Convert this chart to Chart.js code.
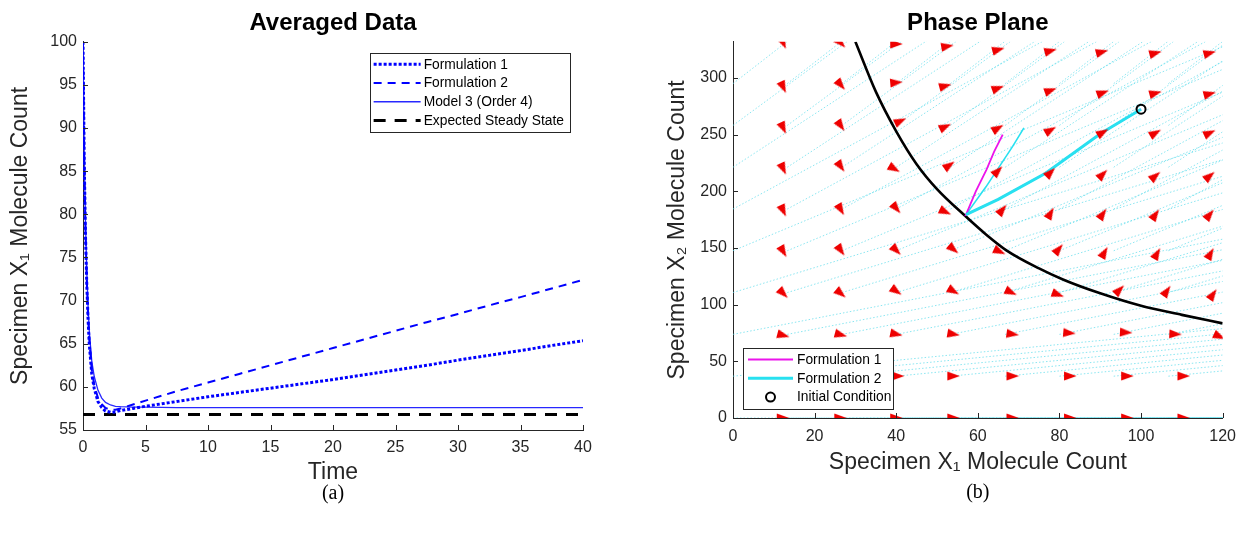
<!DOCTYPE html>
<html lang="en">

<head>
    <meta charset="UTF-8">
    <title>Averaged Data / Phase Plane</title>
    <style>
        body { margin: 0; background: #fff; }
        #wrap { position: relative; width: 1245px; height: 536px; }
        canvas { position: absolute; top: 0; }
        #leftChart { left: 0; }
        #rightChart { left: 640px; }
    </style>
</head>

<body>
    <div id="wrap">
        <canvas id="leftChart" width="620" height="536"></canvas>
        <canvas id="rightChart" width="605" height="536"></canvas>
    </div>

    <script src="https://cdn.jsdelivr.net/npm/chart.js@4/dist/chart.umd.min.js"></script>
    <script>
        // ---------- (a) Averaged Data ----------
        const timePoints = [0, 0.1, 0.2, 0.3, 0.4, 0.5, 0.7, 0.9, 1.2, 1.5, 1.8, 2.2, 2.6, 3, 4, 5, 7.5, 10, 12.5, 15, 17.5, 20, 22.5, 25, 27.5, 30, 32.5, 35, 37.5, 40];
        const formulation1 = [100, 86, 77.5, 72, 68, 65, 61.5, 59.8, 58.3, 57.6, 57.2, 57.05, 57.1, 57.25, 57.5, 57.75, 58.3, 58.85, 59.35, 59.85, 60.35, 60.85, 61.4, 61.95, 62.5, 63.1, 63.65, 64.2, 64.8, 65.35];
        const formulation2 = [100, 86.5, 78, 72.5, 68.5, 65.5, 62, 60.2, 58.7, 58, 57.55, 57.35, 57.35, 57.5, 57.95, 58.4, 59.5, 60.5, 61.5, 62.5, 63.5, 64.5, 65.5, 66.5, 67.5, 68.45, 69.45, 70.4, 71.4, 72.4];
        const model3 = [100, 87, 79, 73.5, 69.5, 66.5, 63, 61.2, 59.6, 58.7, 58.2, 57.9, 57.75, 57.7, 57.65, 57.65, 57.6, 57.6, 57.6, 57.6, 57.6, 57.6, 57.6, 57.6, 57.6, 57.6, 57.6, 57.6, 57.6, 57.6];
        const steadyTime = [0, 40];
        const steadyState = [56.8, 56.8];

        // ---------- (b) Phase Plane ----------
        const nullclineX = [30, 35, 40, 45, 50, 57, 62, 67, 75, 81, 90, 100, 110, 120];
        const nullclineY = [332, 288, 253, 224, 202, 178, 162, 148, 132, 122, 110, 99, 91, 83.5];

        const initialX = [100];
        const initialY = [272.5];

        const form1X = [100, 90.2, 76.6, 65, 57.1, 59.5, 62.1, 64, 66.1];
        const form1Y = [272.5, 251.3, 216, 193, 179.5, 200, 219, 235, 250];
        const form2MainX = [100, 90.2, 76.6, 65, 57.1];
        const form2MainY = [272.5, 251.3, 216, 193, 179.5];
        const form2BranchX = [57.1, 62, 68.5, 71.3];
        const form2BranchY = [179.5, 204, 239.5, 256];

        // arrowheads of the direction field, row by row from the top
        const quiverX = [
            12.3, 26.4, 40, 52.5, 65, 77.8, 90.4, 103.5, 116.8,
            12.3, 26.4, 40, 52, 64.9, 77.8, 90.6, 103.5, 116.8,
            12.3, 26.4, 41, 52, 64.9, 77.8, 90.6, 103.5, 116.8,
            12.3, 26.4, 39.5, 53, 64.9, 77.8, 90.6, 103.5, 116.8,
            12.3, 26.4, 40, 52, 66, 77.8, 90.6, 103.5, 116.8,
            12.3, 26.4, 40, 54, 65.3, 79.8, 91, 103.9, 117,
            12.3, 26.4, 40, 54, 68.1, 79.6, 94.7, 106.3, 117.6,
            12.3, 26.4, 40, 54, 68.5, 82.4, 96.3, 108.4, 119.2,
            12.3, 26.4, 40.4, 54, 68.5, 82.6, 96.6, 110.4,
            12.2, 26.3, 40, 54, 68.5, 82.6, 96.6, 110.4
        ];
        const quiverY = [
            331, 331, 330, 328, 325, 324, 323, 322, 322,
            292, 294, 296, 293, 291, 289, 287, 286.6, 286,
            256, 258, 262, 257, 255.7, 254, 252, 251.5, 251.5,
            220, 222, 220, 223, 218, 216.6, 215, 213.5, 213.5,
            183, 184, 185, 182, 183.7, 180.7, 180, 179.4, 179.4,
            147, 148, 148, 149, 147, 149, 146, 145, 145,
            110, 110, 112, 112, 111, 109, 113, 112, 109,
            73, 73.5, 74, 74, 74, 75, 75.5, 74, 72,
            37, 37, 37, 37, 37, 37, 37, 37,
            0, 0, 0, 0, 0, 0, 0, 0
        ];
        // on-screen direction in degrees, counter-clockwise from +x
        const quiverAngle = [
            -65, -45, 0, 10, 15, 15, 15, 15, 15,
            -65, -50, 5, 15, 20, 20, 20, 15, 15,
            -65, -55, 25, 25, 30, 30, 30, 30, 25,
            -65, -55, -30, 35, 45, 45, 45, 40, 40,
            -65, -60, -50, -25, 50, 60, 55, 55, 50,
            -60, -55, -45, -40, -25, 50, 60, 60, 60,
            -45, -40, -35, -30, -25, -20, 45, 55, 55,
            -15, -15, -12, -10, -8, -5, -3, -3, -25,
            0, 0, 0, 0, 0, 0, 0, 0,
            0, 0, 0, 0, 0, 0, 0, 0
        ];

        // dotted stream lines leave every grid point with the row's slope
        const streamRowY = [0, 36.9, 73.8, 110.7, 147.6, 184.4, 221.3, 258.2, 295.1];
        const streamSlope = [0, 0.35, 0.7, 1.1, 1.5, 1.95, 2.35, 2.65, 2.8];
        const streamStartX = [0, 13.3, 26.7, 40, 53.3, 66.7, 80, 93.3, 106.7];

        const pairs = (xs, ys) => xs.map((x, i) => ({ x: x, y: ys[i] }));

        const streamPoints = [];
        streamRowY.forEach((y0, r) => {
            streamStartX.forEach(x0 => {
                streamPoints.push({ x: x0, y: y0 });
                streamPoints.push({ x: x0 + 130, y: y0 + streamSlope[r] * 130 });
                streamPoints.push({ x: x0 + 130, y: null });
            });
        });

        // arrowhead sprite, pointing up; Chart.js rotates it per point
        const arrowHead = document.createElement('canvas');
        arrowHead.width = 10;
        arrowHead.height = 14;
        (function () {
            const c = arrowHead.getContext('2d');
            c.fillStyle = '#ee0000';
            c.beginPath();
            c.moveTo(5, 0.5);
            c.lineTo(9.5, 13);
            c.lineTo(0.5, 13);
            c.closePath();
            c.fill();
        })();

        const FONT = "'Liberation Sans', Arial, Helvetica, sans-serif";
        Chart.defaults.font.family = FONT;
        Chart.defaults.color = '#262626';

        // MATLAB style tick marks, pointing into the axes
        const innerTicks = {
            id: 'innerTicks',
            afterDatasetsDraw(chart) {
                const ctx = chart.ctx;
                ctx.save();
                ctx.strokeStyle = '#262626';
                ctx.lineWidth = 1;
                Object.values(chart.scales).forEach(s => {
                    s.ticks.forEach(t => {
                        const p = Math.round(s.getPixelForValue(t.value)) + 0.5;
                        ctx.beginPath();
                        if (s.isHorizontal()) {
                            ctx.moveTo(p, s.top);
                            ctx.lineTo(p, s.top - 5);
                        } else {
                            ctx.moveTo(s.right, p);
                            ctx.lineTo(s.right + 5, p);
                        }
                        ctx.stroke();
                    });
                });
                ctx.restore();
            }
        };

        // boxed legend inside the plot area
        const boxLegend = {
            id: 'boxLegend',
            afterDraw(chart, args, o) {
                if (!o.items) return;
                const ctx = chart.ctx;
                const area = chart.chartArea;
                const sets = o.items.map(l => chart.data.datasets.find(d => d.label === l));
                ctx.save();
                ctx.font = o.fontSize + 'px ' + FONT;
                const textW = Math.max(...sets.map(d => ctx.measureText(d.label).width));
                const w = o.textLeft + textW + o.padRight;
                const h = sets.length * o.rowHeight + o.padY * 2;
                const left = o.corner === 'topRight' ? area.right - o.offsetX - w : area.left + o.offsetX;
                const top = o.corner === 'topRight' ? area.top + o.offsetY : area.bottom - o.offsetY - h;
                ctx.fillStyle = '#fff';
                ctx.fillRect(left, top, w, h);
                ctx.strokeStyle = '#262626';
                ctx.lineWidth = 1;
                ctx.strokeRect(Math.round(left) + 0.5, Math.round(top) + 0.5, Math.round(w), Math.round(h));
                sets.forEach((d, i) => {
                    const y = top + o.padY + o.rowHeight * (i + 0.5);
                    if (d.showLine === false) {
                        ctx.setLineDash([]);
                        ctx.beginPath();
                        ctx.arc(left + o.sampleLeft + o.sampleLen / 2, y, d.pointRadius, 0, Math.PI * 2);
                        ctx.lineWidth = d.pointBorderWidth;
                        ctx.strokeStyle = d.pointBorderColor;
                        ctx.stroke();
                    } else {
                        ctx.setLineDash(d.borderDash || []);
                        ctx.beginPath();
                        ctx.moveTo(left + o.sampleLeft, y);
                        ctx.lineTo(left + o.sampleLeft + o.sampleLen, y);
                        ctx.lineWidth = d.borderWidth;
                        ctx.strokeStyle = d.borderColor;
                        ctx.stroke();
                    }
                    ctx.setLineDash([]);
                    ctx.fillStyle = '#000';
                    ctx.textBaseline = 'middle';
                    ctx.fillText(d.label, left + o.textLeft, y + 0.5);
                });
                ctx.restore();
            }
        };

        const axisTitle = (text, pad) => ({
            display: true,
            text: text,
            color: '#262626',
            font: { size: 23, lineHeight: 1 },
            padding: pad
        });

        const tickFont = { size: 16 };

        // ----- left chart -----
        new Chart(document.getElementById('leftChart'), {
            type: 'scatter',
            data: {
                datasets: [{
                    label: 'Formulation 1',
                    data: pairs(timePoints, formulation1),
                    showLine: true,
                    borderColor: '#0000ff',
                    borderWidth: 3,
                    borderDash: [3, 2],
                    pointRadius: 0
                },
                {
                    label: 'Formulation 2',
                    data: pairs(timePoints, formulation2),
                    showLine: true,
                    borderColor: '#0000ff',
                    borderWidth: 2,
                    borderDash: [8, 6],
                    pointRadius: 0
                },
                {
                    label: 'Model 3 (Order 4)',
                    data: pairs(timePoints, model3),
                    showLine: true,
                    borderColor: 'rgb(40,40,255)',
                    borderWidth: 1.3,
                    pointRadius: 0
                },
                {
                    label: 'Expected Steady State',
                    data: pairs(steadyTime, steadyState),
                    showLine: true,
                    borderColor: '#000',
                    borderWidth: 3,
                    borderDash: [12, 9],
                    pointRadius: 0
                }]
            },
            options: {
                responsive: false,
                animation: false,
                events: [],
                devicePixelRatio: 1,
                layout: { padding: { left: 0, right: 37, top: 0, bottom: 0 } },
                plugins: {
                    legend: { display: false },
                    tooltip: { enabled: false },
                    title: {
                        display: true,
                        text: 'Averaged Data',
                        color: '#000',
                        fullSize: false,
                        font: { size: 24, weight: 'bold', lineHeight: 1.2 },
                        padding: { top: 9, bottom: 4 }
                    },
                    subtitle: {
                        display: true,
                        position: 'bottom',
                        text: '(a)',
                        color: '#000',
                        fullSize: false,
                        font: { family: "'Liberation Serif', 'DejaVu Serif', serif", size: 20, lineHeight: 1 },
                        padding: { top: 0, bottom: 32 }
                    },
                    boxLegend: {
                        items: ['Formulation 1', 'Formulation 2', 'Model 3 (Order 4)', 'Expected Steady State'],
                        corner: 'topRight', offsetX: 13, offsetY: 11,
                        fontSize: 13.8, rowHeight: 18.7, padY: 2.2,
                        sampleLeft: 4, sampleLen: 47, textLeft: 54, padRight: 6
                    }
                },
                scales: {
                    x: {
                        type: 'linear', min: 0, max: 40,
                        grid: { drawOnChartArea: false, drawTicks: false },
                        border: { display: true, color: '#262626' },
                        ticks: { stepSize: 5, padding: 8, font: tickFont, maxRotation: 0, autoSkip: false },
                        title: axisTitle('Time', { top: 0, bottom: 0 }),
                        afterFit: s => { s.height = 54; }
                    },
                    y: {
                        type: 'linear', min: 55, max: 100,
                        grid: { drawOnChartArea: false, drawTicks: false },
                        border: { display: true, color: '#262626' },
                        ticks: { stepSize: 5, padding: 6, font: tickFont, autoSkip: false },
                        title: axisTitle('Specimen X\u2081 Molecule Count', { top: 9.5, bottom: 0 }),
                        afterFit: s => { s.width = 83; }
                    }
                }
            },
            plugins: [innerTicks, boxLegend]
        });

        // ----- right chart -----
        new Chart(document.getElementById('rightChart'), {
            type: 'scatter',
            data: {
                datasets: [{
                    label: 'Initial Condition',
                    data: pairs(initialX, initialY),
                    showLine: false,
                    pointStyle: 'circle',
                    pointRadius: 4.5,
                    pointBorderWidth: 2,
                    pointBorderColor: '#000',
                    pointBackgroundColor: 'rgba(0,0,0,0)'
                },
                {
                    data: pairs(quiverX, quiverY),
                    showLine: false,
                    pointStyle: arrowHead,
                    pointRadius: 6,
                    pointRotation: quiverAngle.map(a => 90 - a)
                },
                {
                    label: 'Formulation 2',
                    data: pairs(form2MainX, form2MainY),
                    showLine: true,
                    borderColor: 'rgb(40,225,240)',
                    borderWidth: 3,
                    pointRadius: 0
                },
                {
                    label: 'Formulation 1',
                    data: pairs(form1X, form1Y),
                    showLine: true,
                    borderColor: 'rgb(235,20,235)',
                    borderWidth: 1.8,
                    pointRadius: 0
                },
                {
                    data: pairs(form2BranchX, form2BranchY),
                    showLine: true,
                    borderColor: 'rgb(40,225,240)',
                    borderWidth: 1.6,
                    pointRadius: 0
                },
                {
                    data: pairs(nullclineX, nullclineY),
                    showLine: true,
                    borderColor: '#000',
                    borderWidth: 2.6,
                    cubicInterpolationMode: 'monotone',
                    pointRadius: 0
                },
                {
                    data: streamPoints,
                    showLine: true,
                    spanGaps: false,
                    borderColor: 'rgba(90,220,235,0.7)',
                    borderWidth: 1,
                    borderDash: [1.5, 2],
                    pointRadius: 0
                }]
            },
            options: {
                responsive: false,
                animation: false,
                events: [],
                devicePixelRatio: 1,
                layout: { padding: { left: 0, right: 15, top: 0, bottom: 0 } },
                plugins: {
                    legend: { display: false },
                    tooltip: { enabled: false },
                    title: {
                        display: true,
                        text: 'Phase Plane',
                        color: '#000',
                        fullSize: false,
                        font: { size: 24, weight: 'bold', lineHeight: 1.2 },
                        padding: { top: 9, bottom: 4 }
                    },
                    subtitle: {
                        display: true,
                        position: 'bottom',
                        text: '(b)',
                        color: '#000',
                        fullSize: false,
                        font: { family: "'Liberation Serif', 'DejaVu Serif', serif", size: 20, lineHeight: 1 },
                        padding: { top: 9, bottom: 33 }
                    },
                    boxLegend: {
                        items: ['Formulation 1', 'Formulation 2', 'Initial Condition'],
                        corner: 'bottomLeft', offsetX: 10, offsetY: 9,
                        fontSize: 13.8, rowHeight: 18.8, padY: 2.5,
                        sampleLeft: 5, sampleLen: 45, textLeft: 54, padRight: 2
                    }
                },
                scales: {
                    x: {
                        type: 'linear', min: 0, max: 120,
                        grid: { drawOnChartArea: false, drawTicks: false },
                        border: { display: true, color: '#262626' },
                        ticks: { stepSize: 20, padding: 9, font: tickFont, maxRotation: 0, autoSkip: false },
                        title: axisTitle('Specimen X\u2081 Molecule Count', { top: 0, bottom: 0 }),
                        afterFit: s => { s.height = 56; }
                    },
                    y: {
                        type: 'linear', min: 0, max: 332,
                        grid: { drawOnChartArea: false, drawTicks: false },
                        border: { display: true, color: '#262626' },
                        ticks: { stepSize: 50, padding: 6, font: tickFont, autoSkip: false, includeBounds: false },
                        title: axisTitle('Specimen X\u2082 Molecule Count', { top: 26.5, bottom: 0 }),
                        afterFit: s => { s.width = 93; }
                    }
                }
            },
            plugins: [innerTicks, boxLegend]
        });
    </script>
</body>

</html>
